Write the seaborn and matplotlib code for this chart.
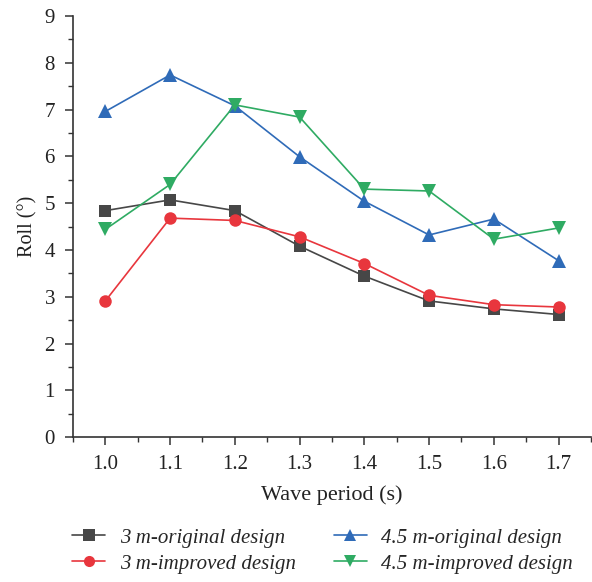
import seaborn as sns
import matplotlib.pyplot as plt
import pandas as pd
from matplotlib.ticker import MultipleLocator

# Data
periods = [1.0, 1.1, 1.2, 1.3, 1.4, 1.5, 1.6, 1.7]
orig_3m = [4.84, 5.07, 4.84, 4.08, 3.44, 2.91, 2.74, 2.62]
impr_3m = [2.91, 4.68, 4.63, 4.28, 3.71, 3.03, 2.83, 2.78]
orig_45m = [6.96, 7.74, 7.08, 5.99, 5.04, 4.32, 4.66, 3.77]
impr_45m = [4.44, 5.40, 7.10, 6.84, 5.30, 5.26, 4.23, 4.47]

series_names = ["3 m-original design", "3 m-improved design",
                "4.5 m-original design", "4.5 m-improved design"]
series_values = [orig_3m, impr_3m, orig_45m, impr_45m]

rows = []
for name, vals in zip(series_names, series_values):
    for p, v in zip(periods, vals):
        rows.append({"period": p, "roll": v, "design": name})
df = pd.DataFrame(rows)

palette = {
    "3 m-original design": "#474747",
    "3 m-improved design": "#e8363d",
    "4.5 m-original design": "#2f6bb8",
    "4.5 m-improved design": "#2fab63",
}
markers = {
    "3 m-original design": "s",
    "3 m-improved design": "o",
    "4.5 m-original design": "^",
    "4.5 m-improved design": "v",
}

sns.set_style("ticks")
plt.rcParams["font.family"] = ["Liberation Serif", "DejaVu Serif"]

fig = plt.figure(figsize=(5.92, 5.82), dpi=100)
ax = fig.add_axes([0.1233, 0.249, 0.875, 0.7235])

sns.lineplot(data=df, x="period", y="roll", hue="design", style="design",
             palette=palette, markers=markers, dashes=False,
             markeredgewidth=0, linewidth=1.2, ax=ax, legend=False)

# marker sizes tuned per shape
sizes = [8.5, 9, 10.5, 10.5]
for line, s in zip(ax.lines, sizes):
    line.set_markersize(s)

ax.set_xlim(0.95, 1.75)
ax.set_ylim(0, 9)
ax.xaxis.set_major_locator(MultipleLocator(0.1))
ax.xaxis.set_minor_locator(MultipleLocator(0.05))
ax.yaxis.set_major_locator(MultipleLocator(1))
ax.yaxis.set_minor_locator(MultipleLocator(0.5))
ax.set_xticks(periods)
ax.set_xticklabels([f"{p:.1f}" for p in periods])

for side in ["top", "right"]:
    ax.spines[side].set_visible(False)
for side in ["left", "bottom"]:
    ax.spines[side].set_color("#333333")
    ax.spines[side].set_linewidth(1.2)

ax.tick_params(which="major", direction="out", length=6, width=1.1,
               colors="#333333", labelsize=15, labelcolor="#222222", pad=7)
ax.tick_params(which="minor", direction="out", length=3.5, width=1.0,
               colors="#333333")

ax.set_xlabel("Wave period (s)", fontsize=16, color="#222222", labelpad=8)
ax.set_ylabel("Roll (°)", fontsize=14.5, color="#222222", labelpad=5)

handles = []
for name in series_names:
    h, = ax.plot([], [], color=palette[name], marker=markers[name],
                 markersize=8, markeredgewidth=0, linewidth=1.2)
    handles.append(h)

fig.legend(handles, series_names, ncol=2, loc="center",
           bbox_to_anchor=(0.545, 0.0535), frameon=False,
           prop={"style": "italic", "size": 15}, handlelength=1.6,
           columnspacing=1.8, labelspacing=0.3, handletextpad=0.7)

fig.savefig("out.png", dpi=100)
